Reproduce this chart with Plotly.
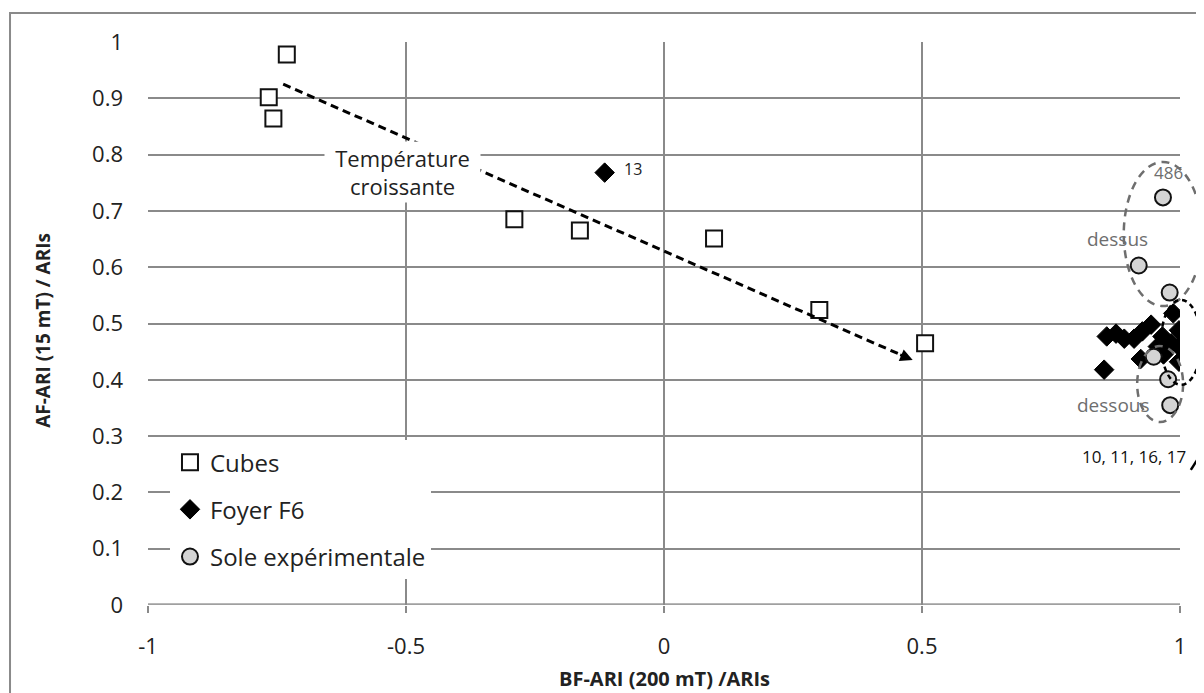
import plotly.graph_objects as go

# ---------------- data ----------------
cubes_x = [-0.731, -0.766, -0.757, -0.290, -0.163, 0.097, 0.301, 0.506]
cubes_y = [0.978, 0.902, 0.864, 0.685, 0.665, 0.651, 0.524, 0.465]

foyer_x = [-0.115, 0.853, 0.858, 0.876, 0.892, 0.911, 0.927, 0.944, 0.957,
           0.966, 0.924, 0.983, 0.987, 0.998, 0.998, 0.998, 0.968]
foyer_y = [0.768, 0.418, 0.477, 0.482, 0.473, 0.473, 0.486, 0.498, 0.459,
           0.477, 0.437, 0.465, 0.518, 0.488, 0.459, 0.432, 0.445]

sole_x = [0.967, 0.920, 0.980, 0.949, 0.977, 0.981]
sole_y = [0.724, 0.603, 0.555, 0.441, 0.401, 0.355]

x_tickvals = [-1, -0.5, 0, 0.5, 1]
x_ticktext = ["-1", "-0.5", "0", "0.5", "1"]
y_tickvals = [0, 0.1, 0.2, 0.3, 0.4, 0.5, 0.6, 0.7, 0.8, 0.9, 1]
y_ticktext = ["0", "0.1", "0.2", "0.3", "0.4", "0.5", "0.6", "0.7", "0.8", "0.9", "1"]

X_RANGE = [-1, 1]
Y_RANGE = [0, 1]

FONT = "Open Sans"
GRID = "#8a8a8a"


def px(x):
    """data x -> paper x (for decorations drawn outside the plot area)"""
    return (x - X_RANGE[0]) / (X_RANGE[1] - X_RANGE[0])


def py(y):
    return (y - Y_RANGE[0]) / (Y_RANGE[1] - Y_RANGE[0])


fig = go.Figure()

fig.add_trace(go.Scatter(
    x=cubes_x, y=cubes_y, mode="markers", name="Cubes", legendgroup="a",
    marker=dict(symbol="square", size=16, color="white",
                line=dict(color="#111", width=2)),
))
fig.add_trace(go.Scatter(
    x=foyer_x, y=foyer_y, mode="markers", name="Foyer F6", legendgroup="b",
    marker=dict(symbol="diamond", size=15, color="black",
                line=dict(color="black", width=1)),
))
fig.add_trace(go.Scatter(
    x=sole_x, y=sole_y, mode="markers", name="Sole expérimentale", legendgroup="c",
    marker=dict(symbol="circle", size=16, color="#d4d4d4",
                line=dict(color="#111", width=2)),
))

shapes = []
# outer chart border
shapes.append(dict(type="rect", xref="paper", yref="paper",
                   x0=-0.1337, x1=1.08, y0=-0.2, y1=1.0515,
                   line=dict(color="#8a8a8a", width=2), layer="below"))
# dashed "température croissante" line
shapes.append(dict(type="line", xref="x", yref="y",
                   x0=-0.738, y0=0.925, x1=0.470, y1=0.440,
                   line=dict(color="black", width=3, dash="8px,5px")))
# ellipse "dessus"
shapes.append(dict(type="circle", xref="paper", yref="paper",
                   x0=px(0.891), x1=px(1.043), y0=py(0.531), y1=py(0.787),
                   line=dict(color="#6e6e6e", width=2.5, dash="8px,6px")))
# ellipse "dessous"
shapes.append(dict(type="circle", xref="paper", yref="paper",
                   x0=px(0.917), x1=px(1.006), y0=py(0.325), y1=py(0.460),
                   line=dict(color="#6e6e6e", width=2.5, dash="8px,6px")))
# black dotted ellipse around samples 10, 11, 16, 17
shapes.append(dict(type="circle", xref="paper", yref="paper",
                   x0=px(0.963), x1=px(1.041), y0=py(0.391), y1=py(0.542),
                   line=dict(color="black", width=2.5, dash="5px,4px")))
# solid arrow line from label
shapes.append(dict(type="line", xref="paper", yref="paper",
                   x0=px(1.021), y0=py(0.240), x1=px(1.070), y1=py(0.311),
                   line=dict(color="black", width=2.5)))

TXT = dict(showarrow=False, xanchor="center", yanchor="middle")

annotations = []
annotations.append(dict(
    x=-0.506, y=0.769, xref="x", yref="y", text="Température<br>croissante",
    bgcolor="white", width=147, height=52, borderpad=4,
    font=dict(family=FONT, size=22, color="#222"), **TXT))
# arrowhead at end of dashed line
annotations.append(dict(
    x=0.482, y=0.435, xref="x", yref="y", ax=-14, ay=-6, text="",
    showarrow=True, arrowhead=2, arrowsize=1, arrowwidth=2.5,
    arrowcolor="black", standoff=0))
# arrowhead pointing to dotted ellipse
annotations.append(dict(
    x=px(1.035), y=py(0.470), xref="paper", yref="paper", ax=10, ay=14,
    text="", showarrow=True, arrowhead=2, arrowsize=1, arrowwidth=2,
    arrowcolor="black", standoff=0))
annotations.append(dict(x=-0.061, y=0.774, xref="x", yref="y", text="13",
                        font=dict(family=FONT, size=16, color="#222"), **TXT))
annotations.append(dict(x=0.977, y=0.769, xref="x", yref="y", text="486",
                        font=dict(family=FONT, size=17, color="#6e6e6e"), **TXT))
annotations.append(dict(x=0.878, y=0.650, xref="x", yref="y", text="dessus",
                        font=dict(family=FONT, size=19, color="#6e6e6e"), **TXT))
annotations.append(dict(x=0.872, y=0.355, xref="x", yref="y", text="dessous",
                        font=dict(family=FONT, size=19, color="#6e6e6e"), **TXT))
annotations.append(dict(x=0.911, y=0.263, xref="x", yref="y", text="10, 11, 16, 17",
                        font=dict(family=FONT, size=17, color="#111"), **TXT))
# axis titles
annotations.append(dict(x=0.5, y=-0.13, xref="paper", yref="paper",
                        text="<b>BF-ARI (200 mT) /ARIs</b>",
                        font=dict(family=FONT, size=20, color="#222"), **TXT))
annotations.append(dict(x=-0.1017, y=0.487, xref="paper", yref="paper",
                        text="<b>AF-ARI (15 mT) / ARIs</b>", textangle=-90,
                        font=dict(family=FONT, size=19, color="#222"), **TXT))

# page body adds an 8px offset; size the figure so the plot lands where it should
fig.update_layout(
    width=1196, height=685,
    margin=dict(l=140, r=24, t=34, b=88),
    paper_bgcolor="white", plot_bgcolor="white",
    font=dict(family=FONT, color="#222"),
    showlegend=True,
    legend=dict(x=0.0213, y=0.293, xanchor="left", yanchor="top",
                bgcolor="white", borderwidth=0, tracegroupgap=13,
                font=dict(family=FONT, size=24, color="#222"),
                itemwidth=30),
    shapes=shapes, annotations=annotations,
)

fig.update_xaxes(range=X_RANGE, tickvals=x_tickvals, ticktext=x_ticktext,
                 showgrid=True, gridcolor=GRID, gridwidth=2,
                 zeroline=False, showline=False,
                 ticks="outside", ticklen=7, tickwidth=2, tickcolor=GRID,
                 ticklabelstandoff=15,
                 tickfont=dict(family=FONT, size=22, color="#222"))
fig.update_yaxes(range=Y_RANGE, tickvals=y_tickvals, ticktext=y_ticktext,
                 showgrid=True, gridcolor=GRID, gridwidth=2,
                 zeroline=False, showline=False, ticks="",
                 ticklabelstandoff=24,
                 tickfont=dict(family=FONT, size=22, color="#222"))

# bottom axis line (y = 0) drawn thicker like the reference
fig.add_shape(type="line", xref="paper", yref="y", x0=0, x1=1, y0=0, y1=0,
              line=dict(color="#a0a0a0", width=3.5), layer="below")

fig.write_html("out.html")
